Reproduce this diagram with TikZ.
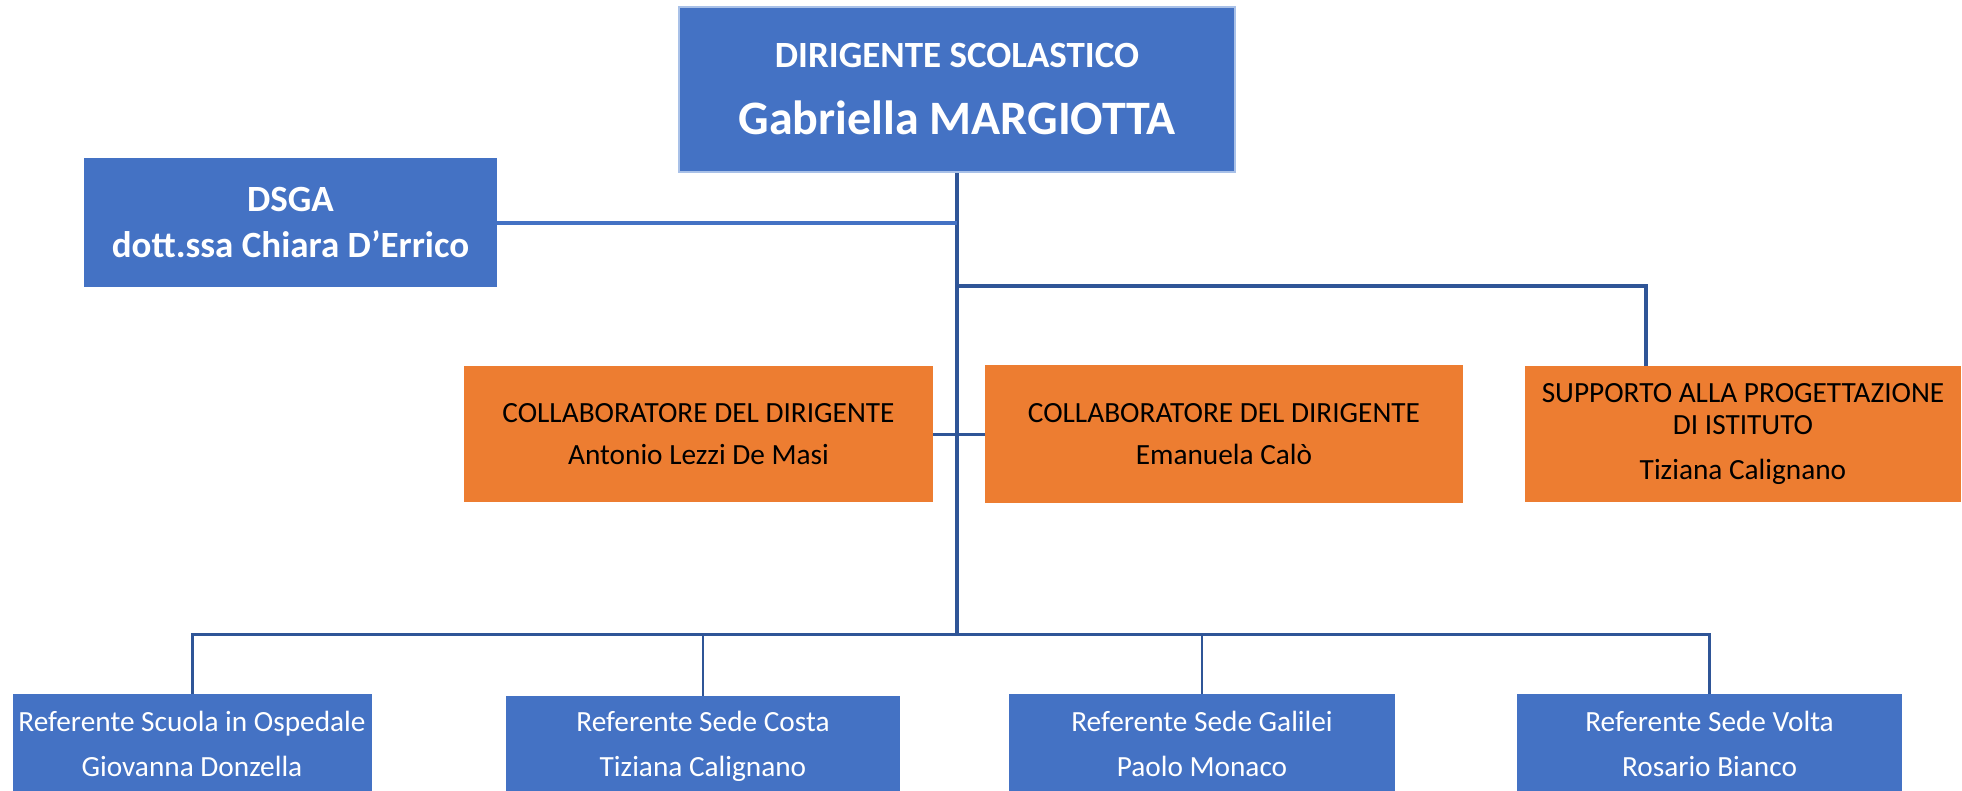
\documentclass[tikz,border=0pt]{standalone}
\usepackage{fontspec}
\setmainfont{Carlito}
\usetikzlibrary{calc}
\definecolor{boxblue}{HTML}{4472C4}
\definecolor{boxorange}{HTML}{ED7D31}
\definecolor{linedark}{HTML}{2F5597}
\definecolor{edgeblue}{HTML}{A9C1E8}
\begin{document}
\begin{tikzpicture}[x=1pt,y=-1pt,
  bluebox/.style={fill=boxblue, text=white, align=center, inner sep=0pt},
  orangebox/.style={fill=boxorange, text=black, align=center, inner sep=0pt, font=\fontsize{29.3}{42}\selectfont},
  refbox/.style={bluebox, font=\fontsize{29.3}{45}\selectfont},
  conn/.style={draw=linedark, line width=3.5pt},
]
\useasboundingbox (0,0) rectangle (1962,790);
\clip (0,0) rectangle (1962,790);

% boxes
\node[bluebox, draw=edgeblue, line width=2pt, minimum width=556pt, minimum height=165pt,
      font=\bfseries\fontsize{48}{67}\selectfont] (ds) at (957,89.5)
  {{\fontsize{37}{67}\selectfont DIRIGENTE SCOLASTICO}\\Gabriella MARGIOTTA};
\node[bluebox, minimum width=413pt, minimum height=129pt,
      font=\bfseries\fontsize{37}{46}\selectfont] (dsga) at (290.5,222.5)
  {DSGA\\dott.ssa Chiara D’Errico};
\node[orangebox, minimum width=469pt, minimum height=136pt] (c1) at (698.5,434)
  {COLLABORATORE DEL DIRIGENTE\\Antonio Lezzi De Masi};
\node[orangebox, minimum width=478pt, minimum height=138pt] (c2) at (1224,434)
  {COLLABORATORE DEL DIRIGENTE\\Emanuela Calò};
\node[orangebox, minimum width=436pt, minimum height=136pt, font=\fontsize{29.3}{32}\selectfont] (sup) at (1743,434)
  {SUPPORTO ALLA PROGETTAZIONE\\DI ISTITUTO\\[13pt]Tiziana Calignano};
\node[refbox, minimum width=359pt, minimum height=100pt] (b1) at (192,744)
  {Referente Scuola in Ospedale\\Giovanna Donzella};
\node[refbox, minimum width=394pt, minimum height=100pt] (b2) at (703,746)
  {Referente Sede Costa\\Tiziana Calignano};
\node[refbox, minimum width=386pt, minimum height=100pt] (b3) at (1202,744)
  {Referente Sede Galilei\\Paolo Monaco};
\node[refbox, minimum width=385pt, minimum height=100pt] (b4) at (1709.5,744)
  {Referente Sede Volta\\Rosario Bianco};

% junctions
\coordinate (jD) at (ds.south |- dsga.east);
\coordinate (jR) at (957,286);
\coordinate (bus) at (957,634);

% connectors
\draw[conn] (ds.south) -- (bus);
\draw[draw=boxblue, line width=4pt] (dsga.east) -- (jD);
\draw[conn, line width=4.5pt] (jR) -| ([xshift=-97pt]sup.north);
\draw[conn, line width=3pt] (c1.east) -- (c2.west);
\draw[conn, line width=3pt] (b1.north) -- (b1.north |- bus) -- (b4.north |- bus) -- (b4.north);
\draw[conn, line width=2.5pt] (b2.north) -- (b2.north |- bus);
\draw[conn, line width=2.5pt] (b3.north) -- (b3.north |- bus);
\end{tikzpicture}
\end{document}
